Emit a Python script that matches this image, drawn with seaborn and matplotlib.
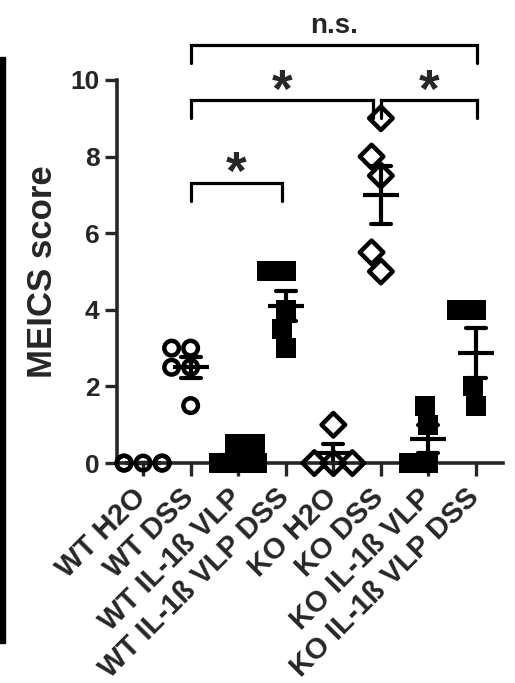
import pandas as pd
import numpy as np
import matplotlib
matplotlib.use("Agg")
import matplotlib.pyplot as plt
import matplotlib.transforms as mtransforms
import seaborn as sns
from matplotlib.patches import Rectangle

import warnings
warnings.simplefilter("ignore")

groups = ["WT H2O", "WT DSS", "WT IL-1ß VLP", "WT IL-1ß VLP DSS",
          "KO H2O", "KO DSS", "KO IL-1ß VLP", "KO IL-1ß VLP DSS"]
wt_h2o = [0, 0, 0, 0, 0]
wt_dss = [3, 3, 2.5, 2.5, 1.5]
wt_vlp = [0.5, 0.5, 0, 0, 0]
wt_vlp_dss = [5, 5, 4, 3.5, 3]
ko_h2o = [1, 0, 0, 0]
ko_dss = [9, 8, 7.5, 5.5, 5]
ko_vlp = [1.5, 1, 0, 0]
ko_vlp_dss = [4, 4, 2, 1.5]
values = [wt_h2o, wt_dss, wt_vlp, wt_vlp_dss, ko_h2o, ko_dss, ko_vlp, ko_vlp_dss]

# marker, size, hollow
styles = [("o", 10.5, True), ("o", 10.5, True), ("s", 14, False), ("s", 14, False),
          ("D", 12, True), ("D", 12, True), ("s", 14, False), ("s", 14, False)]

# (left group, right group, level, label)
comparisons = [(1, 2.92, 6.85, "*"), (1, 4.83, 9.0, "*"), (5, 7.03, 9.0, "*"), (1, 7.03, 10.45, "n.s.")]


def main():
    rows = []
    for g, v in zip(groups, values):
        for s in v:
            rows.append((g, s))
    df = pd.DataFrame(rows, columns=["group", "score"])

    sns.set_style("ticks")
    plt.rcParams["font.family"] = ["Liberation Sans", "DejaVu Sans"]
    plt.rcParams["font.weight"] = "bold"

    fig = plt.figure(figsize=(5.15, 6.83), dpi=100)
    ax = fig.add_axes([0.227, 0.322, 0.75, 0.561])

    for g, (m, sz, hollow) in zip(groups, styles):
        n = len(ax.collections)
        sns.swarmplot(data=df[df.group == g], x="group", y="score", order=groups,
                      marker=m, size=sz, color="black", linewidth=0, ax=ax)
        for c in ax.collections[n:]:
            if len(c.get_offsets()) == 0:
                c.set_visible(False)
                continue
            if hollow:
                c.set_facecolor("none")
                c.set_edgecolor("black")
                c.set_linewidth(3.2)
            c.set_clip_on(False)

    sns.pointplot(data=df, x="group", y="score", order=groups, errorbar="se",
                  color="black", linestyle="none", marker="_", markersize=26,
                  markeredgewidth=3, capsize=0.42, err_kws={"linewidth": 3}, ax=ax)
    for l in ax.lines:
        l.set_clip_on(False)

    ax.set_xlim(-0.55, 7.57)
    ax.set_ylim(0, 10)
    ax.set_yticks([0, 2, 4, 6, 8, 10])
    sns.despine(ax=ax)
    for s in ["left", "bottom"]:
        ax.spines[s].set_linewidth(2.6)
    ax.tick_params(axis="both", width=2.4, length=9, labelsize=19)
    ax.set_xlabel("")
    ax.set_ylabel("MEICS score", fontsize=25, fontweight="bold", labelpad=8)
    ax.set_xticks(range(len(groups)))
    ax.set_xticklabels(groups, rotation=45, ha="right", va="top",
                       rotation_mode="anchor", fontsize=21, fontweight="bold")
    shift = mtransforms.ScaledTranslation(-0.11, -0.03, fig.dpi_scale_trans)
    for t in ax.get_xticklabels():
        t.set_transform(t.get_transform() + shift)
    for t in ax.get_yticklabels():
        t.set_fontweight("bold")

    for a, b, y, lab in comparisons:
        ax.plot([a, a, b, b], [y, y + 0.47, y + 0.47, y], color="black", lw=2.3,
                clip_on=False, solid_joinstyle="miter")
        if lab == "*":
            ax.text((a + b) / 2, y + 0.02, lab, ha="center", va="bottom",
                    fontsize=38, fontweight="bold")
        else:
            ax.text((a + b) / 2, y + 0.62, lab, ha="center", va="bottom",
                    fontsize=20, fontweight="bold")

    fig.patches.append(Rectangle((0, 1 - 643 / 683), 5 / 515, 586 / 683,
                                 transform=fig.transFigure, color="black"))

    plt.savefig("out.png", dpi=100)


if __name__ == "__main__":
    main()
